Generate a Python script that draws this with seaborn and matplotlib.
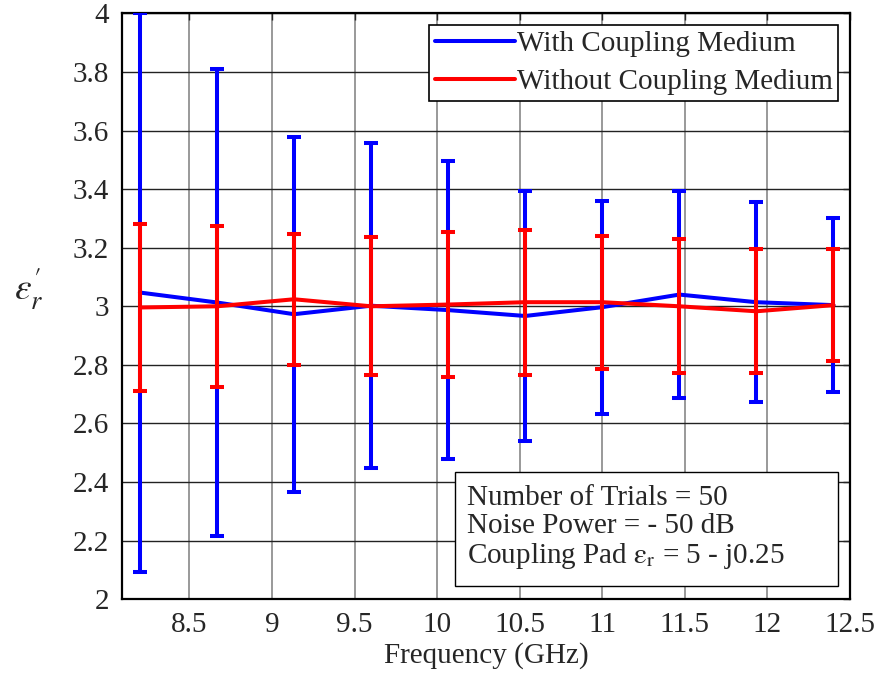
import numpy as np
import pandas as pd
import matplotlib
matplotlib.use('Agg')
import matplotlib.pyplot as plt
from matplotlib.patches import Rectangle
import seaborn as sns

# Frequency points (GHz)
freq = [8.2, 8.667, 9.133, 9.6, 10.067, 10.533, 11.0, 11.467, 11.933, 12.4]

# With coupling medium: mean and half-width of error bar
with_mean = [3.047, 3.013, 2.973, 3.002, 2.987, 2.967, 2.997, 3.040, 3.014, 3.004]
with_err = [0.953, 0.796, 0.606, 0.554, 0.509, 0.428, 0.364, 0.354, 0.341, 0.297]

# Without coupling medium
without_mean = [2.996, 3.000, 3.024, 3.000, 3.006, 3.014, 3.014, 3.000, 2.983, 3.004]
without_err = [0.286, 0.275, 0.224, 0.235, 0.248, 0.247, 0.227, 0.228, 0.211, 0.190]

labels = ['With Coupling Medium', 'Without Coupling Medium']
colors = ['#0000ff', '#ff0000']

xticks = [8.5, 9, 9.5, 10, 10.5, 11, 11.5, 12, 12.5]
xticklabels = ['8.5', '9', '9.5', '10', '10.5', '11', '11.5', '12', '12.5']
yticks = [2, 2.2, 2.4, 2.6, 2.8, 3, 3.2, 3.4, 3.6, 3.8, 4]
yticklabels = ['2', '2.2', '2.4', '2.6', '2.8', '3', '3.2', '3.4', '3.6', '3.8', '4']

FS = 21

sns.set_style('white')
plt.rcParams['font.family'] = ['Liberation Serif', 'DejaVu Serif']
plt.rcParams['mathtext.fontset'] = 'stix'

df = pd.DataFrame({
    'freq': freq * 2,
    'eps': with_mean + without_mean,
    'series': [labels[0]] * len(freq) + [labels[1]] * len(freq),
})

fig = plt.figure(figsize=(8.82, 6.79), dpi=100)
ax = fig.add_axes([0.138, 0.1174, 0.8257, 0.863])

# error bars, then the mean lines on top (blue first, red over it)
for i, (m, e) in enumerate([(with_mean, with_err), (without_mean, without_err)]):
    ax.errorbar(freq, m, yerr=e, fmt='none', ecolor=colors[i], elinewidth=2.9,
                capsize=5, capthick=2.9, zorder=3 + 2 * i)
    sns.lineplot(data=df[df['series'] == labels[i]], x='freq', y='eps', color=colors[i],
                 linewidth=2.9, ax=ax, label=labels[i], zorder=4 + 2 * i)

ax.set_xlim(8.09, 12.5)
ax.set_ylim(2, 4)
ax.set_xticks(xticks)
ax.set_xticklabels(xticklabels, fontsize=FS)
ax.set_yticks(yticks)
ax.set_yticklabels(yticklabels, fontsize=FS)
ax.tick_params(direction='in', length=5, width=1, pad=9, top=True, right=True)

ax.xaxis.grid(True, color='#888888', linewidth=1.2)
ax.yaxis.grid(True, color='#222222', linewidth=1.0)
ax.set_axisbelow(True)
for s in ax.spines.values():
    s.set_color('black')
    s.set_linewidth(1.6)

ax.set_xlabel('Frequency (GHz)', fontsize=FS, labelpad=3)
ax.set_ylabel(r"$\varepsilon^{\prime}_{r}$", fontsize=27, rotation=0)
ax.yaxis.set_label_coords(-0.127, 0.49)

leg = ax.legend(loc='upper right', fontsize=FS, frameon=True, fancybox=False,
                framealpha=1, edgecolor='black', handlelength=2.75, handletextpad=0.05,
                borderpad=0.2, labelspacing=0.38, borderaxespad=0.4)
leg.get_frame().set_linewidth(1.2)

# annotation box
ax.add_patch(Rectangle((0.4577, 0.0227), 0.5258, 0.1945, transform=ax.transAxes,
                       facecolor='white', edgecolor='black', linewidth=1.0, zorder=10))
ax.text(0.474, 0.1217,
        'Number of Trials = 50\nNoise Power = - 50 dB\nCoupling Pad ' + r'$\mathrm{\varepsilon_r}$' + ' = 5 - j0.25',
        transform=ax.transAxes, fontsize=FS, linespacing=1.1, va='center', ha='left',
        zorder=11)

plt.savefig('out.png', dpi=100)
